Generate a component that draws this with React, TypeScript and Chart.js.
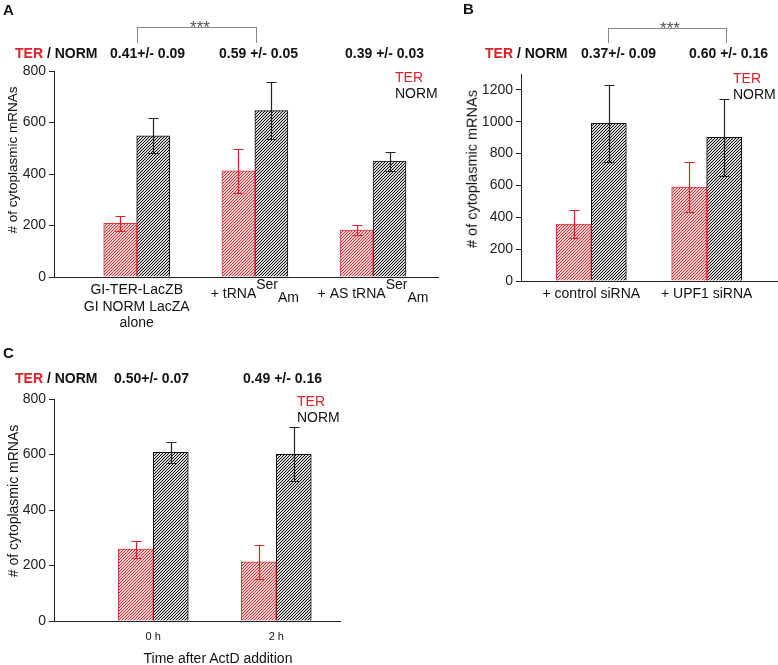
import React, { useEffect, useRef } from 'react';
import { Chart, registerables } from 'chart.js';
Chart.register(...registerables);

const FONT = '"Liberation Sans", Arial, Helvetica, sans-serif';
const RED = '#d8232a';
const AX = '#222';

// ---------- Panel A ----------
const categoriesA = ['GI-TER-LacZB|GI NORM LacZA|alone', '+ tRNA^Ser_Am', '+ AS tRNA^Ser_Am'];
const terA = [208, 412, 182];
const terErrA = [29, 85, 20];
const normA = [548, 646, 450];
const normErrA = [68, 110, 37];
const ratiosA = ['0.41+/- 0.09', '0.59 +/- 0.05', '0.39 +/- 0.03'];

// ---------- Panel B ----------
const categoriesB = ['+ control siRNA', '+ UPF1 siRNA'];
const terB = [357, 590];
const terErrB = [87, 157];
const normB = [990, 902];
const normErrB = [242, 240];
const ratiosB = ['0.37+/- 0.09', '0.60 +/- 0.16'];

// ---------- Panel C ----------
const categoriesC = ['0 h', '2 h'];
const terC = [259, 213];
const terErrC = [31, 60];
const normC = [608, 601];
const normErrC = [38, 97];
const ratiosC = ['0.50+/- 0.07', '0.49 +/- 0.16'];

const yAxisTitle = '# of cytoplasmic mRNAs';
const xAxisTitleC = 'Time after ActD addition';

function makePattern(fg: string, bg: string, n: number, k: number) {
  const c = document.createElement('canvas');
  c.width = n;
  c.height = n;
  const g = c.getContext('2d')!;
  g.fillStyle = bg;
  g.fillRect(0, 0, n, n);
  g.fillStyle = fg;
  for (let x = 0; x < n; x++) {
    for (let y = 0; y < n; y++) {
      if ((x + y) % n < k) g.fillRect(x, y, 1, 1);
    }
  }
  return g.createPattern(c, 'repeat')!;
}

const errorBarPlugin = {
  id: 'errbars',
  afterDatasetsDraw(chart: any) {
    const ctx = chart.ctx;
    const ys = chart.scales.y;
    chart.data.datasets.forEach((ds: any, i: number) => {
      const meta = chart.getDatasetMeta(i);
      meta.data.forEach((bar: any, j: number) => {
        const v = ds.data[j].y;
        const e = ds.errors[j];
        const x = Math.round(bar.x) + 0.5;
        const t = Math.round(ys.getPixelForValue(v + e)) + 0.5;
        const b = Math.round(ys.getPixelForValue(v - e)) + 0.5;
        ctx.save();
        ctx.strokeStyle = ds.errColor;
        ctx.lineWidth = 1.2;
        ctx.beginPath();
        ctx.moveTo(x, t);
        ctx.lineTo(x, b);
        ctx.moveTo(x - 5, t);
        ctx.lineTo(x + 5, t);
        ctx.moveTo(x - 5, b);
        ctx.lineTo(x + 5, b);
        ctx.stroke();
        ctx.restore();
      });
    });
  },
};

function drawRich(ctx: CanvasRenderingContext2D, text: string, cx: number, baseline: number, size: number) {
  const m = text.match(/^([^^_]*)(?:\^([^_]*))?(?:_(.*))?$/) || [text, text, '', ''];
  const base = m[1] || '';
  const sup = m[2] || '';
  const sub = m[3] || '';
  ctx.font = `${size}px ${FONT}`;
  const wb = ctx.measureText(base).width;
  const wsub = ctx.measureText(sub).width;
  const ws = ctx.measureText(sup).width;
  let x = cx - (wb + ws + wsub) / 2;
  ctx.textAlign = 'left';
  ctx.textBaseline = 'alphabetic';
  ctx.fillStyle = '#111';
  ctx.fillText(base, x, baseline);
  x += wb;
  if (sup) {
    ctx.fillText(sup, x, baseline - 9);
    x += ws;
  }
  if (sub) {
    ctx.fillText(sub, x, baseline + 4);
  }
}

function xLabelPlugin(labels: string[], labelY: number, size: number, lineH: number) {
  return {
    id: 'xlabels',
    afterDraw(chart: any) {
      const ctx = chart.ctx;
      const xs = chart.scales.x;
      ctx.save();
      labels.forEach((lab, i) => {
        const cx = xs.getPixelForValue(i + 1);
        const lines = lab.split('|');
        const y0 = labelY + (lines.length > 1 ? -4 : 0);
        lines.forEach((ln, k) => drawRich(ctx, ln, cx, y0 + k * lineH, size));
      });
      ctx.restore();
    },
  };
}

type Panel = {
  ter: number[]; terErr: number[]; norm: number[]; normErr: number[];
  labels: string[]; labelY: number; labelSize: number;
  xMin: number; xMax: number; yMax: number; step: number;
  barW: number; yW: number; xH: number;
  padding: { left: number; top: number; right: number; bottom: number };
  w: number; h: number; left: number; top: number;
};

const panels: Panel[] = [
  {
    ter: terA, terErr: terErrA, norm: normA, normErr: normErrA,
    labels: categoriesA, labelY: 298, labelSize: 14,
    xMin: 0.3, xMax: 3.55, yMax: 800, step: 200, barW: 33, yW: 54, xH: 63,
    padding: { left: 0, top: 71, right: 12, bottom: 0 }, w: 450, h: 340, left: 0, top: 0,
  },
  {
    ter: terB, terErr: terErrB, norm: normB, normErr: normErrB,
    labels: categoriesB, labelY: 298, labelSize: 14,
    xMin: 0.39, xMax: 2.61, yMax: 1300, step: 200, barW: 35, yW: 71, xH: 59,
    padding: { left: 0, top: 74, right: 1, bottom: 0 }, w: 328, h: 340, left: 450, top: 0,
  },
  {
    ter: terC, terErr: terErrC, norm: normC, normErr: normErrC,
    labels: categoriesC, labelY: 310, labelSize: 11,
    xMin: 0.193, xMax: 2.518, yMax: 800, step: 200, barW: 35, yW: 54, xH: 44,
    padding: { left: 0, top: 69, right: 110, bottom: 0 }, w: 450, h: 335, left: 0, top: 330,
  },
];

function BarPanel({ p }: { p: Panel }) {
  const ref = useRef<HTMLCanvasElement>(null);
  useEffect(() => {
    const canvas = ref.current!;
    const redPat = makePattern('#e02a33', '#f9d2d2', 3, 1);
    const blackPat = makePattern('#111111', '#d4d4d4', 3, 1);
    const chart = new Chart(canvas, {
      type: 'bar',
      data: {
        datasets: [
          {
            label: 'TER',
            data: p.ter.map((v, i) => ({ x: i + 1, y: v })),
            backgroundColor: redPat,
            borderColor: '#e2333b',
            borderWidth: 1,
            barThickness: p.barW,
            errors: p.terErr,
            errColor: RED,
          } as any,
          {
            label: 'NORM',
            data: p.norm.map((v, i) => ({ x: i + 1, y: v })),
            backgroundColor: blackPat,
            borderColor: '#111',
            borderWidth: 1,
            barThickness: p.barW,
            errors: p.normErr,
            errColor: '#222',
          } as any,
        ],
      },
      options: {
        responsive: false,
        animation: false,
        events: [],
        layout: { padding: p.padding },
        plugins: { legend: { display: false }, tooltip: { enabled: false } },
        scales: {
          x: {
            type: 'linear',
            min: p.xMin,
            max: p.xMax,
            offset: false,
            grid: { display: false, drawTicks: false },
            border: { display: true, color: AX, width: 1 },
            ticks: { display: false },
            afterFit: (s: any) => { s.height = p.xH; },
          },
          y: {
            type: 'linear',
            min: 0,
            max: p.yMax,
            grid: { display: true, drawOnChartArea: false, drawTicks: true, tickLength: 5, color: AX },
            border: { display: true, color: AX, width: 1 },
            ticks: {
              stepSize: p.step, includeBounds: false, font: { family: FONT, size: 14 }, color: '#222', padding: 3,
              callback: (v: any) => String(v),
            },
            afterFit: (s: any) => { s.width = p.yW; },
          },
        },
      } as any,
      plugins: [errorBarPlugin, xLabelPlugin(p.labels, p.labelY, p.labelSize, 16.5)],
    });
    return () => chart.destroy();
  }, [p]);
  return (
    <canvas
      ref={ref}
      width={p.w}
      height={p.h}
      style={{ position: 'absolute', left: p.left, top: p.top, width: p.w, height: p.h }}
    />
  );
}

function T(props: {
  x: number; y: number; text: string; size?: number; bold?: boolean; color?: string;
  align?: 'left' | 'center'; rotate?: boolean;
}) {
  const { x, y, text, size = 14, bold = false, color = '#111', align = 'left', rotate = false } = props;
  let transform = align === 'center' ? 'translate(-50%,-50%)' : 'translate(0,-50%)';
  if (rotate) transform = 'translate(-50%,-50%) rotate(-90deg)';
  return (
    <div
      style={{
        position: 'absolute', left: x, top: y, transform, whiteSpace: 'nowrap',
        font: `${bold ? 'bold ' : ''}${size}px ${FONT}`, lineHeight: 1, color,
      }}
    >
      {text}
    </div>
  );
}

function Header({ x, y }: { x: number; y: number }) {
  return (
    <div
      style={{
        position: 'absolute', left: x, top: y, transform: 'translate(0,-50%)', whiteSpace: 'nowrap',
        font: `bold 14px ${FONT}`, lineHeight: 1, color: '#111',
      }}
    >
      <span style={{ color: RED }}>TER</span> / NORM
    </div>
  );
}

function Bracket({ l, r, top, bottom, starX }: { l: number; r: number; top: number; bottom: number; starX: number }) {
  return (
    <>
      <div
        style={{
          position: 'absolute', left: l, top, width: r - l, height: bottom - top,
          borderTop: '1px solid #888', borderLeft: '1px solid #888', borderRight: '1px solid #888',
          boxSizing: 'border-box',
        }}
      />
      <T x={starX} y={top} text="***" size={17} color="#555" align="center" />
    </>
  );
}

function Legend({ x, y }: { x: number; y: number }) {
  return (
    <>
      <T x={x} y={y} text="TER" color={RED} />
      <T x={x} y={y + 16} text="NORM" color="#111" />
    </>
  );
}

export default function App() {
  return (
    <div style={{ position: 'absolute', left: 0, top: 0, width: 778, height: 665, background: '#fff', overflow: 'hidden' }}>
      {panels.map((p, i) => <BarPanel key={i} p={p} />)}

      {/* Panel letters */}
      <T x={3} y={9} text="A" size={15} bold />
      <T x={463} y={8} text="B" size={15} bold />
      <T x={3} y={352} text="C" size={15} bold />

      {/* Panel A annotations */}
      <Header x={15} y={53} />
      <T x={110} y={53} text={ratiosA[0]} bold />
      <T x={219} y={53} text={ratiosA[1]} bold />
      <T x={345} y={53} text={ratiosA[2]} bold />
      <Bracket l={137} r={257} top={27} bottom={43} starX={200} />
      <Legend x={395} y={77} />
      <T x={13} y={160} text={yAxisTitle} size={13.5} rotate />

      {/* Panel B annotations */}
      <Header x={485} y={53} />
      <T x={581} y={53} text={ratiosB[0]} bold />
      <T x={689} y={53} text={ratiosB[1]} bold />
      <Bracket l={608} r={727} top={28} bottom={43} starX={670} />
      <Legend x={733} y={78} />
      <T x={472} y={169} text={yAxisTitle} size={14.5} rotate />

      {/* Panel C annotations */}
      <Header x={15} y={378} />
      <T x={114} y={378} text={ratiosC[0]} bold />
      <T x={243} y={378} text={ratiosC[1]} bold />
      <Legend x={297} y={401} />
      <T x={13} y={501} text={yAxisTitle} size={14} rotate />
      <T x={218} y={658} text={xAxisTitleC} size={14} align="center" />
    </div>
  );
}
